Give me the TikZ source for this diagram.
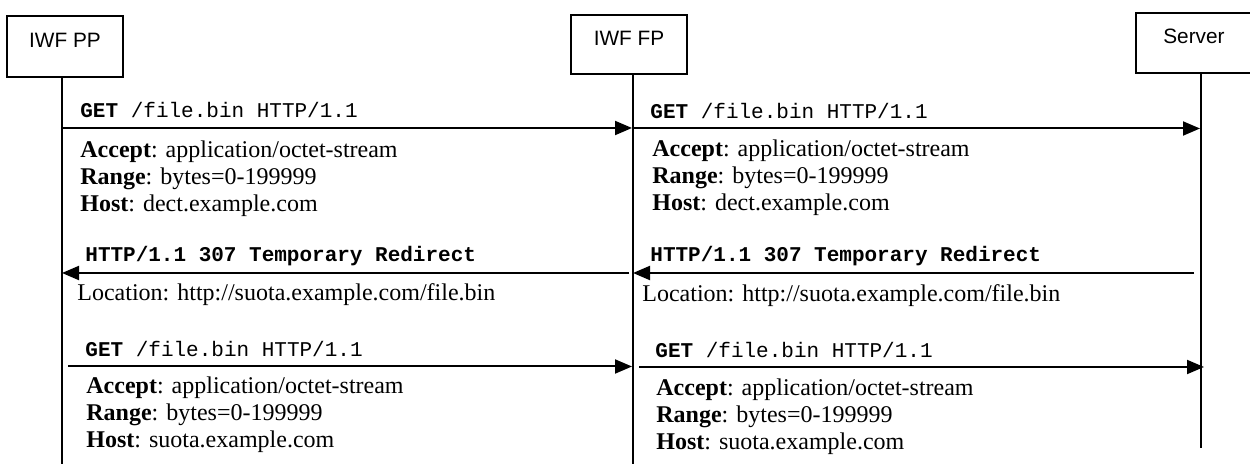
\documentclass[tikz,border=0pt]{standalone}
\usepackage{fontspec}
\setmainfont{Liberation Serif}
\setsansfont{Liberation Sans}
\setmonofont{Liberation Mono}
\usetikzlibrary{arrows.meta}

\tikzset{
	entity/.style={draw, line width=0.65pt, minimum width=58pt, minimum height=30pt, inner sep=0pt,
		font=\sffamily\fontsize{10.4}{12}\selectfont, text height=7.5pt, text depth=6.5pt},
	lifeline/.style={line width=0.75pt},
	msg/.style={line width=1pt, -{Triangle[length=8.5pt,width=7pt]}},
	reqline/.style={anchor=base west, inner sep=0pt, font=\ttfamily\fontsize{10.5}{12}\selectfont},
	hdrs/.style={anchor=north west, inner sep=0pt, align=left, font=\fontsize{12}{13.5}\selectfont},
	locline/.style={anchor=base west, inner sep=0pt, font=\fontsize{12}{13.5}\selectfont}
}

\begin{document}
\begin{tikzpicture}[x=0.5pt, y=-0.5pt]
	\useasboundingbox (0,0) rectangle (1250,464);

	% Entities
	\node[entity, minimum height=30.5pt] (pp) at (65,46.5) {IWF PP};
	\node[entity, minimum height=29.5pt] (fp) at (629,44.5) {IWF FP};
	\node[entity] (server) at (1194,43) {Server};

	% Lifelines
	\coordinate (ppend) at (62,464);
	\coordinate (fpend) at (633,464);
	\coordinate (serverend) at (1201,448);
	\draw[lifeline] (pp.south -| ppend) -- (ppend);
	\draw[lifeline] (fp.south -| fpend) -- (fpend);
	\draw[lifeline] (server.south -| serverend) -- (serverend);

	% GET (dect)
	\coordinate (get1a) at (62,128);
	\coordinate (get1b) at (632,128);
	\coordinate (get2a) at (633,128.5);
	\coordinate (get2b) at (1200,128.5);
	\draw[msg] (get1a) -- (get1b);
	\draw[msg] (get2a) -- (get2b);
	\node[reqline] (req1) at (80,118) {\textbf{GET} /file.bin HTTP/1.1};
	\node[hdrs] (hdr1) at (80,140.6) {\textbf{Accept}: application/octet-stream\\
		\textbf{Range}: bytes=0-199999\\
		\textbf{Host}: dect.example.com};
	\node[reqline] (req2) at (650,119) {\textbf{GET} /file.bin HTTP/1.1};
	\node[hdrs] (hdr2) at (652,139.6) {\textbf{Accept}: application/octet-stream\\
		\textbf{Range}: bytes=0-199999\\
		\textbf{Host}: dect.example.com};

	% 307 Redirect
	\coordinate (red1a) at (629,273);
	\coordinate (red1b) at (62,273);
	\coordinate (red2a) at (1194,273);
	\coordinate (red2b) at (633,273);
	\draw[msg] (red1a) -- (red1b);
	\draw[msg] (red2a) -- (red2b);
	\node[reqline] (resp1) at (85,262) {\textbf{HTTP/1.1 307 Temporary Redirect}};
	\node[locline] (loc1) at (77,301) {Location: http://suota.example.com/file.bin};
	\node[reqline] (resp2) at (650,262) {\textbf{HTTP/1.1 307 Temporary Redirect}};
	\node[locline] (loc2) at (642,302) {Location: http://suota.example.com/file.bin};

	% GET (suota)
	\coordinate (get3a) at (68,366.5);
	\coordinate (get3b) at (632,366.5);
	\coordinate (get4a) at (639,367);
	\coordinate (get4b) at (1204,367);
	\draw[msg] (get3a) -- (get3b);
	\draw[msg] (get4a) -- (get4b);
	\node[reqline] (req3) at (85,357) {\textbf{GET} /file.bin HTTP/1.1};
	\node[hdrs] (hdr3) at (86,376.6) {\textbf{Accept}: application/octet-stream\\
		\textbf{Range}: bytes=0-199999\\
		\textbf{Host}: suota.example.com};
	\node[reqline] (req4) at (655,358) {\textbf{GET} /file.bin HTTP/1.1};
	\node[hdrs] (hdr4) at (656,378.6) {\textbf{Accept}: application/octet-stream\\
		\textbf{Range}: bytes=0-199999\\
		\textbf{Host}: suota.example.com};
\end{tikzpicture}
\end{document}
